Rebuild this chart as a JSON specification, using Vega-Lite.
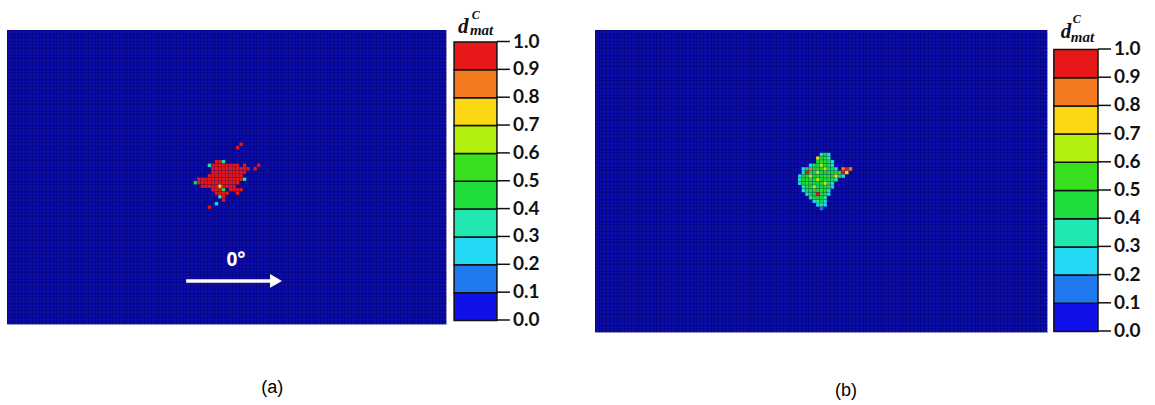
{
  "$schema": "https://vega.github.io/schema/vega-lite/v6.json",
  "background": "white",
  "padding": {"left": 7, "top": 9, "right": 0, "bottom": 0},
  "spacing": 55,
  "config": {
    "view": {"stroke": null},
    "axis": {"labels": false, "ticks": false, "domain": false, "grid": true, "gridColor": "#00006a", "gridOpacity": 0.55, "gridWidth": 0.7, "title": null, "zindex": 0},
    "axisX": {"tickCount": 125},
    "axisY": {"tickCount": 84},
    "rect": {"binSpacing": 0}
  },
  "datasets": {
    "cellsA": [
      {"c":66,"r":32,"d":0.95},{"c":65,"r":33,"d":0.95},
      {"c":59,"r":37,"d":0.95},{"c":60,"r":37,"d":0.95},{"c":61,"r":37,"d":0.3},
      {"c":57,"r":38,"d":0.3},{"c":58,"r":38,"d":0.95},{"c":59,"r":38,"d":0.95},{"c":60,"r":38,"d":0.95},{"c":61,"r":38,"d":0.95},{"c":62,"r":38,"d":0.95},{"c":63,"r":38,"d":0.95},{"c":64,"r":38,"d":0.95},{"c":65,"r":38,"d":0.95},{"c":67,"r":38,"d":0.95},{"c":71,"r":38,"d":0.95},
      {"c":58,"r":39,"d":0.95},{"c":59,"r":39,"d":0.95},{"c":60,"r":39,"d":0.95},{"c":61,"r":39,"d":0.95},{"c":62,"r":39,"d":0.95},{"c":63,"r":39,"d":0.95},{"c":64,"r":39,"d":0.95},{"c":65,"r":39,"d":0.95},{"c":66,"r":39,"d":0.95},{"c":67,"r":39,"d":0.95},{"c":68,"r":39,"d":0.95},{"c":70,"r":39,"d":0.95},
      {"c":58,"r":40,"d":0.95},{"c":59,"r":40,"d":0.95},{"c":60,"r":40,"d":0.95},{"c":61,"r":40,"d":0.95},{"c":62,"r":40,"d":0.95},{"c":63,"r":40,"d":0.95},{"c":64,"r":40,"d":0.95},{"c":65,"r":40,"d":0.95},{"c":66,"r":40,"d":0.95},{"c":67,"r":40,"d":0.95},
      {"c":57,"r":41,"d":0.95},{"c":58,"r":41,"d":0.95},{"c":59,"r":41,"d":0.95},{"c":60,"r":41,"d":0.95},{"c":61,"r":41,"d":0.95},{"c":62,"r":41,"d":0.95},{"c":63,"r":41,"d":0.95},{"c":64,"r":41,"d":0.95},{"c":65,"r":41,"d":0.95},{"c":66,"r":41,"d":0.95},
      {"c":54,"r":42,"d":0.95},{"c":55,"r":42,"d":0.95},{"c":56,"r":42,"d":0.95},{"c":57,"r":42,"d":0.95},{"c":58,"r":42,"d":0.95},{"c":59,"r":42,"d":0.95},{"c":60,"r":42,"d":0.95},{"c":61,"r":42,"d":0.95},{"c":62,"r":42,"d":0.95},{"c":63,"r":42,"d":0.95},{"c":64,"r":42,"d":0.95},{"c":65,"r":42,"d":0.95},{"c":66,"r":42,"d":0.95},{"c":67,"r":42,"d":0.35},
      {"c":53,"r":43,"d":0.45},{"c":54,"r":43,"d":0.95},{"c":55,"r":43,"d":0.95},{"c":56,"r":43,"d":0.95},{"c":57,"r":43,"d":0.95},{"c":58,"r":43,"d":0.95},{"c":59,"r":43,"d":0.95},{"c":60,"r":43,"d":0.95},{"c":61,"r":43,"d":0.95},{"c":62,"r":43,"d":0.95},{"c":63,"r":43,"d":0.95},{"c":64,"r":43,"d":0.95},{"c":65,"r":43,"d":0.95},
      {"c":55,"r":44,"d":0.95},{"c":56,"r":44,"d":0.95},{"c":57,"r":44,"d":0.95},{"c":58,"r":44,"d":0.95},{"c":59,"r":44,"d":0.95},{"c":60,"r":44,"d":0.75},{"c":61,"r":44,"d":0.95},{"c":62,"r":44,"d":0.95},{"c":63,"r":44,"d":0.95},{"c":64,"r":44,"d":0.95},
      {"c":58,"r":45,"d":0.95},{"c":59,"r":45,"d":0.95},{"c":60,"r":45,"d":0.95},{"c":61,"r":45,"d":0.55},{"c":63,"r":45,"d":0.95},{"c":64,"r":45,"d":0.95},{"c":65,"r":45,"d":0.95},{"c":66,"r":45,"d":0.95},
      {"c":59,"r":46,"d":0.95},{"c":60,"r":46,"d":0.95},{"c":61,"r":46,"d":0.95},{"c":62,"r":46,"d":0.95},{"c":65,"r":46,"d":0.95},
      {"c":60,"r":47,"d":0.3},{"c":61,"r":47,"d":0.95},
      {"c":61,"r":48,"d":0.95},
      {"c":59,"r":49,"d":0.25},
      {"c":57,"r":50,"d":0.95}
    ],
    "cellsB": [
      {"c":62,"r":34,"d":0.35},{"c":63,"r":34,"d":0.45},{"c":64,"r":34,"d":0.25},
      {"c":61,"r":35,"d":0.75},{"c":62,"r":35,"d":0.45},{"c":63,"r":35,"d":0.45},{"c":64,"r":35,"d":0.35},
      {"c":61,"r":36,"d":0.45},{"c":62,"r":36,"d":0.55},{"c":63,"r":36,"d":0.45},{"c":64,"r":36,"d":0.45},{"c":65,"r":36,"d":0.25},
      {"c":59,"r":37,"d":0.25},{"c":60,"r":37,"d":0.45},{"c":61,"r":37,"d":0.45},{"c":62,"r":37,"d":0.65},{"c":63,"r":37,"d":0.45},{"c":64,"r":37,"d":0.45},{"c":65,"r":37,"d":0.35},
      {"c":57,"r":38,"d":0.25},{"c":58,"r":38,"d":0.45},{"c":59,"r":38,"d":0.85},{"c":60,"r":38,"d":0.45},{"c":61,"r":38,"d":0.45},{"c":62,"r":38,"d":0.45},{"c":63,"r":38,"d":0.65},{"c":64,"r":38,"d":0.45},{"c":65,"r":38,"d":0.45},{"c":66,"r":38,"d":0.35},{"c":68,"r":38,"d":0.85},{"c":69,"r":38,"d":0.95},{"c":70,"r":38,"d":0.85},
      {"c":57,"r":39,"d":0.35},{"c":58,"r":39,"d":0.95},{"c":59,"r":39,"d":0.45},{"c":60,"r":39,"d":0.45},{"c":61,"r":39,"d":0.65},{"c":62,"r":39,"d":0.45},{"c":63,"r":39,"d":0.45},{"c":64,"r":39,"d":0.45},{"c":65,"r":39,"d":0.45},{"c":66,"r":39,"d":0.45},{"c":67,"r":39,"d":0.55},{"c":68,"r":39,"d":0.95},{"c":69,"r":39,"d":0.75},
      {"c":56,"r":40,"d":0.25},{"c":57,"r":40,"d":0.45},{"c":58,"r":40,"d":0.45},{"c":59,"r":40,"d":0.65},{"c":60,"r":40,"d":0.45},{"c":61,"r":40,"d":0.45},{"c":62,"r":40,"d":0.45},{"c":63,"r":40,"d":0.55},{"c":64,"r":40,"d":0.45},{"c":65,"r":40,"d":0.45},{"c":66,"r":40,"d":0.75},{"c":67,"r":40,"d":0.45},{"c":68,"r":40,"d":0.25},
      {"c":56,"r":41,"d":0.35},{"c":57,"r":41,"d":0.45},{"c":58,"r":41,"d":0.45},{"c":59,"r":41,"d":0.45},{"c":60,"r":41,"d":0.45},{"c":61,"r":41,"d":0.65},{"c":62,"r":41,"d":0.45},{"c":63,"r":41,"d":0.45},{"c":64,"r":41,"d":0.45},{"c":65,"r":41,"d":0.45},{"c":66,"r":41,"d":0.35},
      {"c":56,"r":42,"d":0.25},{"c":57,"r":42,"d":0.45},{"c":58,"r":42,"d":0.55},{"c":59,"r":42,"d":0.45},{"c":60,"r":42,"d":0.45},{"c":61,"r":42,"d":0.45},{"c":62,"r":42,"d":0.45},{"c":63,"r":42,"d":0.65},{"c":64,"r":42,"d":0.45},{"c":65,"r":42,"d":0.35},
      {"c":57,"r":43,"d":0.35},{"c":58,"r":43,"d":0.45},{"c":59,"r":43,"d":0.45},{"c":60,"r":43,"d":0.65},{"c":61,"r":43,"d":0.45},{"c":62,"r":43,"d":0.45},{"c":63,"r":43,"d":0.45},{"c":64,"r":43,"d":0.45},{"c":65,"r":43,"d":0.25},
      {"c":57,"r":44,"d":0.25},{"c":58,"r":44,"d":0.45},{"c":59,"r":44,"d":0.45},{"c":60,"r":44,"d":0.45},{"c":61,"r":44,"d":0.45},{"c":62,"r":44,"d":0.55},{"c":63,"r":44,"d":0.45},{"c":64,"r":44,"d":0.35},
      {"c":58,"r":45,"d":0.35},{"c":59,"r":45,"d":0.45},{"c":60,"r":45,"d":0.45},{"c":61,"r":45,"d":0.95},{"c":62,"r":45,"d":0.45},{"c":63,"r":45,"d":0.45},{"c":64,"r":45,"d":0.25},
      {"c":59,"r":46,"d":0.35},{"c":60,"r":46,"d":0.45},{"c":61,"r":46,"d":0.45},{"c":62,"r":46,"d":0.45},{"c":63,"r":46,"d":0.35},
      {"c":60,"r":47,"d":0.25},{"c":61,"r":47,"d":0.35},{"c":62,"r":47,"d":0.45},{"c":63,"r":47,"d":0.25},
      {"c":61,"r":48,"d":0.25},{"c":62,"r":48,"d":0.35},{"c":63,"r":48,"d":0.25},
      {"c":62,"r":49,"d":0.15}
    ],
    "bar": [{"d":0.05},{"d":0.15},{"d":0.25},{"d":0.35},{"d":0.45},{"d":0.55},{"d":0.65},{"d":0.75},{"d":0.85},{"d":0.95}],
    "ticks": [{"t":0},{"t":0.1},{"t":0.2},{"t":0.3},{"t":0.4},{"t":0.5},{"t":0.6},{"t":0.7},{"t":0.8},{"t":0.9},{"t":1}]
  },
  "hconcat": [
    {
      "width": 439,
      "height": 294,
      "view": {"fill": "#0c0ca6", "stroke": null},
      "resolve": {"scale": {"y": "independent"}},
      "layer": [
        {
          "layer": [
            {
              "data": {"name": "cellsA"},
              "mark": {"type": "rect", "binSpacing": 0, "stroke": "#000060", "strokeWidth": 0.4, "strokeOpacity": 0.35},
              "encoding": {
                "x": {"field": "c", "type": "quantitative", "bin": {"step": 1, "extent": [0, 125]}, "scale": {"domain": [0, 125], "nice": false, "zero": false}, "title": null},
                "y": {"field": "r", "type": "quantitative", "bin": {"step": 1, "extent": [0, 84]}, "scale": {"domain": [0, 84], "nice": false, "zero": false, "reverse": true}, "title": null},
                "color": {"field": "d", "type": "quantitative", "legend": null, "scale": {"type": "threshold", "domain": [0.1, 0.2, 0.3, 0.4, 0.5, 0.6, 0.7, 0.8, 0.9], "range": ["#1010e8", "#1f7af0", "#22d8f2", "#20e8b0", "#1edc3c", "#38e020", "#b4f00e", "#fcd814", "#f47a20", "#e81818"]}}
              }
            },
            {
              "data": {"values": [{}]},
              "mark": {"type": "rule", "color": "white", "strokeWidth": 3.5},
              "encoding": {
                "x": {"datum": 51, "type": "quantitative", "scale": {"domain": [0, 125]}},
                "x2": {"datum": 75.5},
                "y": {"datum": 71.7, "type": "quantitative", "scale": {"domain": [0, 84]}}
              }
            },
            {
              "data": {"values": [{}]},
              "mark": {"type": "point", "shape": "triangle-right", "filled": true, "color": "white", "opacity": 1, "size": 190},
              "encoding": {
                "x": {"datum": 76.6, "type": "quantitative", "scale": {"domain": [0, 125]}},
                "y": {"datum": 71.7, "type": "quantitative", "scale": {"domain": [0, 84]}}
              }
            },
            {
              "data": {"values": [{}]},
              "mark": {"type": "text", "text": "0°", "color": "white", "font": "Open Sans", "fontWeight": "bold", "fontSize": 19, "align": "center", "baseline": "middle"},
              "encoding": {
                "x": {"datum": 65.2, "type": "quantitative", "scale": {"domain": [0, 125]}},
                "y": {"datum": 65.7, "type": "quantitative", "scale": {"domain": [0, 84]}}
              }
            },
            {
              "data": {"values": [{}]},
              "mark": {"type": "text", "text": "(a)", "color": "black", "font": "Liberation Sans", "fontSize": 18, "align": "center", "baseline": "middle"},
              "encoding": {
                "x": {"datum": 75.5, "type": "quantitative", "scale": {"domain": [0, 125]}},
                "y": {"datum": 102.3, "type": "quantitative", "scale": {"domain": [0, 84]}}
              }
            }
          ]
        },
        {
          "layer": [
            {
              "data": {"name": "bar"},
              "mark": {"type": "rect", "binSpacing": 0, "stroke": "#111111", "strokeWidth": 1.5},
              "encoding": {
                "x": {"datum": 127.3, "type": "quantitative", "scale": {"domain": [0, 125]}},
                "x2": {"datum": 139.5},
                "y": {"field": "d", "type": "quantitative", "bin": {"step": 0.1, "extent": [0, 1]}, "scale": {"domain": [-0.01436, 1.0413], "nice": false, "zero": false}, "axis": null, "title": null},
                "color": {"field": "d", "type": "quantitative", "legend": null, "scale": {"type": "threshold", "domain": [0.1, 0.2, 0.3, 0.4, 0.5, 0.6, 0.7, 0.8, 0.9], "range": ["#1010e8", "#1f7af0", "#22d8f2", "#20e8b0", "#1edc3c", "#38e020", "#b4f00e", "#fcd814", "#f47a20", "#e81818"]}}
              }
            },
            {
              "data": {"name": "ticks"},
              "mark": {"type": "rule", "color": "#111111", "strokeWidth": 1.5},
              "encoding": {
                "x": {"datum": 139.5, "type": "quantitative", "scale": {"domain": [0, 125]}},
                "x2": {"datum": 143.2},
                "y": {"field": "t", "type": "quantitative", "scale": {"domain": [-0.01436, 1.0413], "nice": false, "zero": false}, "axis": null, "title": null}
              }
            },
            {
              "data": {"name": "ticks"},
              "mark": {"type": "text", "color": "#111111", "font": "Lato", "fontWeight": "bold", "fontSize": 19, "align": "left", "baseline": "middle"},
              "encoding": {
                "x": {"datum": 144.1, "type": "quantitative", "scale": {"domain": [0, 125]}},
                "y": {"field": "t", "type": "quantitative", "scale": {"domain": [-0.01436, 1.0413], "nice": false, "zero": false}, "axis": null, "title": null},
                "text": {"field": "t", "type": "quantitative", "format": ".1f"}
              }
            },
            {
              "data": {"values": [{}]},
              "mark": {"type": "text", "text": "d", "color": "#111111", "font": "Liberation Serif", "fontStyle": "italic", "fontWeight": "bold", "fontSize": 21, "align": "left", "baseline": "alphabetic"},
              "encoding": {
                "x": {"datum": 128.4, "type": "quantitative", "scale": {"domain": [0, 125]}},
                "y": {"datum": 1.0305, "type": "quantitative", "scale": {"domain": [-0.01436, 1.0413], "nice": false, "zero": false}, "axis": null}
              }
            },
            {
              "data": {"values": [{}]},
              "mark": {"type": "text", "text": "C", "color": "#111111", "font": "Liberation Serif", "fontStyle": "italic", "fontWeight": "bold", "fontSize": 12, "align": "left", "baseline": "alphabetic"},
              "encoding": {
                "x": {"datum": 132.3, "type": "quantitative", "scale": {"domain": [0, 125]}},
                "y": {"datum": 1.0807, "type": "quantitative", "scale": {"domain": [-0.01436, 1.0413], "nice": false, "zero": false}, "axis": null}
              }
            },
            {
              "data": {"values": [{}]},
              "mark": {"type": "text", "text": "mat", "color": "#111111", "font": "Liberation Serif", "fontStyle": "italic", "fontWeight": "bold", "fontSize": 15, "align": "left", "baseline": "alphabetic"},
              "encoding": {
                "x": {"datum": 131.8, "type": "quantitative", "scale": {"domain": [0, 125]}},
                "y": {"datum": 1.0233, "type": "quantitative", "scale": {"domain": [-0.01436, 1.0413], "nice": false, "zero": false}, "axis": null}
              }
            }
          ]
        }
      ]
    },
    {
      "width": 452,
      "height": 302,
      "view": {"fill": "#0c0ca6", "stroke": null},
      "resolve": {"scale": {"y": "independent"}},
      "layer": [
        {
          "layer": [
            {
              "data": {"name": "cellsB"},
              "mark": {"type": "rect", "binSpacing": 0, "stroke": "#000060", "strokeWidth": 0.4, "strokeOpacity": 0.35},
              "encoding": {
                "x": {"field": "c", "type": "quantitative", "bin": {"step": 1, "extent": [0, 125]}, "scale": {"domain": [0, 125], "nice": false, "zero": false}, "title": null},
                "y": {"field": "r", "type": "quantitative", "bin": {"step": 1, "extent": [0, 84]}, "scale": {"domain": [0, 84], "nice": false, "zero": false, "reverse": true}, "title": null},
                "color": {"field": "d", "type": "quantitative", "legend": null, "scale": {"type": "threshold", "domain": [0.1, 0.2, 0.3, 0.4, 0.5, 0.6, 0.7, 0.8, 0.9], "range": ["#1010e8", "#1f7af0", "#22d8f2", "#20e8b0", "#1edc3c", "#38e020", "#b4f00e", "#fcd814", "#f47a20", "#e81818"]}}
              }
            },
            {
              "data": {"values": [{}]},
              "mark": {"type": "text", "text": "(b)", "color": "black", "font": "Liberation Sans", "fontSize": 18, "align": "center", "baseline": "middle"},
              "encoding": {
                "x": {"datum": 69.4, "type": "quantitative", "scale": {"domain": [0, 125]}},
                "y": {"datum": 100.4, "type": "quantitative", "scale": {"domain": [0, 84]}}
              }
            }
          ]
        },
        {
          "layer": [
            {
              "data": {"name": "bar"},
              "mark": {"type": "rect", "binSpacing": 0, "stroke": "#111111", "strokeWidth": 1.5},
              "encoding": {
                "x": {"datum": 126.9, "type": "quantitative", "scale": {"domain": [0, 125]}},
                "x2": {"datum": 139.1},
                "y": {"field": "d", "type": "quantitative", "bin": {"step": 0.1, "extent": [0, 1]}, "scale": {"domain": [-0.00355, 1.0674], "nice": false, "zero": false}, "axis": null, "title": null},
                "color": {"field": "d", "type": "quantitative", "legend": null, "scale": {"type": "threshold", "domain": [0.1, 0.2, 0.3, 0.4, 0.5, 0.6, 0.7, 0.8, 0.9], "range": ["#1010e8", "#1f7af0", "#22d8f2", "#20e8b0", "#1edc3c", "#38e020", "#b4f00e", "#fcd814", "#f47a20", "#e81818"]}}
              }
            },
            {
              "data": {"name": "ticks"},
              "mark": {"type": "rule", "color": "#111111", "strokeWidth": 1.5},
              "encoding": {
                "x": {"datum": 139.1, "type": "quantitative", "scale": {"domain": [0, 125]}},
                "x2": {"datum": 142.7},
                "y": {"field": "t", "type": "quantitative", "scale": {"domain": [-0.00355, 1.0674], "nice": false, "zero": false}, "axis": null, "title": null}
              }
            },
            {
              "data": {"name": "ticks"},
              "mark": {"type": "text", "color": "#111111", "font": "Lato", "fontWeight": "bold", "fontSize": 19, "align": "left", "baseline": "middle"},
              "encoding": {
                "x": {"datum": 143.5, "type": "quantitative", "scale": {"domain": [0, 125]}},
                "y": {"field": "t", "type": "quantitative", "scale": {"domain": [-0.00355, 1.0674], "nice": false, "zero": false}, "axis": null, "title": null},
                "text": {"field": "t", "type": "quantitative", "format": ".1f"}
              }
            },
            {
              "data": {"values": [{}]},
              "mark": {"type": "text", "text": "d", "color": "#111111", "font": "Liberation Serif", "fontStyle": "italic", "fontWeight": "bold", "fontSize": 21, "align": "left", "baseline": "alphabetic"},
              "encoding": {
                "x": {"datum": 128.8, "type": "quantitative", "scale": {"domain": [0, 125]}},
                "y": {"datum": 1.039, "type": "quantitative", "scale": {"domain": [-0.00355, 1.0674], "nice": false, "zero": false}, "axis": null}
              }
            },
            {
              "data": {"values": [{}]},
              "mark": {"type": "text", "text": "C", "color": "#111111", "font": "Liberation Serif", "fontStyle": "italic", "fontWeight": "bold", "fontSize": 12, "align": "left", "baseline": "alphabetic"},
              "encoding": {
                "x": {"datum": 132.1, "type": "quantitative", "scale": {"domain": [0, 125]}},
                "y": {"datum": 1.0922, "type": "quantitative", "scale": {"domain": [-0.00355, 1.0674], "nice": false, "zero": false}, "axis": null}
              }
            },
            {
              "data": {"values": [{}]},
              "mark": {"type": "text", "text": "mat", "color": "#111111", "font": "Liberation Serif", "fontStyle": "italic", "fontWeight": "bold", "fontSize": 15, "align": "left", "baseline": "alphabetic"},
              "encoding": {
                "x": {"datum": 131.6, "type": "quantitative", "scale": {"domain": [0, 125]}},
                "y": {"datum": 1.0248, "type": "quantitative", "scale": {"domain": [-0.00355, 1.0674], "nice": false, "zero": false}, "axis": null}
              }
            }
          ]
        }
      ]
    }
  ]
}
